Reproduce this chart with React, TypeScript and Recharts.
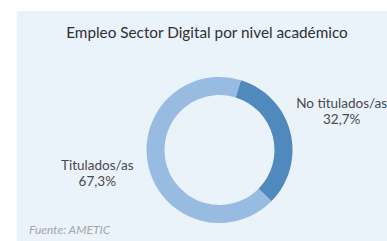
import { PieChart, Pie, Cell } from "recharts";

const categories = ["No titulados/as", "Titulados/as"];
const shares = [32.7, 67.3];
const shareLabels = ["32,7%", "67,3%"];
const colors = ["#4f89bd", "#98bbe2"];

const chartData = categories.map((name, i) => ({
  name,
  value: shares[i],
  pct: shareLabels[i],
}));

const RAD = Math.PI / 180;

function renderLabel(props: any) {
  const { cx, cy, midAngle, outerRadius, index } = props;
  const r = outerRadius + 53;
  const x = cx + r * Math.cos(-midAngle * RAD);
  const y = cy + r * Math.sin(-midAngle * RAD);
  const d = chartData[index];
  return (
    <text
      x={x}
      y={y}
      textAnchor="middle"
      fill="#4a4a4a"
      fontFamily="Lato, sans-serif"
      fontSize={13.5}
    >
      <tspan x={x} dy={-11}>
        {d.name}
      </tspan>
      <tspan x={x} dy={16}>
        {d.pct}
      </tspan>
    </text>
  );
}

export default function App() {
  return (
    <div
      style={{
        position: "absolute",
        left: 0,
        top: 0,
        width: 387,
        height: 241,
        background: "#ffffff",
        overflow: "hidden",
      }}
    >
      <div
        style={{
          position: "absolute",
          left: 17,
          top: 11,
          width: 370,
          height: 230,
          background: "#eaf2fa",
        }}
      >
        <div
          style={{
            position: "absolute",
            left: 0,
            top: 12,
            width: 380,
            textAlign: "center",
            fontFamily: "Lato, sans-serif",
            fontSize: 15.3,
            color: "#303030",
          }}
        >
          Empleo Sector Digital por nivel académico
        </div>
        <PieChart width={370} height={230}>
          <Pie
            data={chartData}
            dataKey="value"
            nameKey="name"
            cx={197.5}
            cy={134}
            innerRadius={55}
            outerRadius={73}
            startAngle={73}
            endAngle={-287}
            stroke="none"
            label={renderLabel}
            labelLine={false}
            isAnimationActive={false}
          >
            {chartData.map((d, i) => (
              <Cell key={d.name} fill={colors[i]} />
            ))}
          </Pie>
        </PieChart>
        <div
          style={{
            position: "absolute",
            left: 12,
            top: 211,
            fontFamily: "Lato, sans-serif",
            fontStyle: "italic",
            fontSize: 12,
            color: "#a6a6a6",
          }}
        >
          Fuente: AMETIC
        </div>
      </div>
    </div>
  );
}
